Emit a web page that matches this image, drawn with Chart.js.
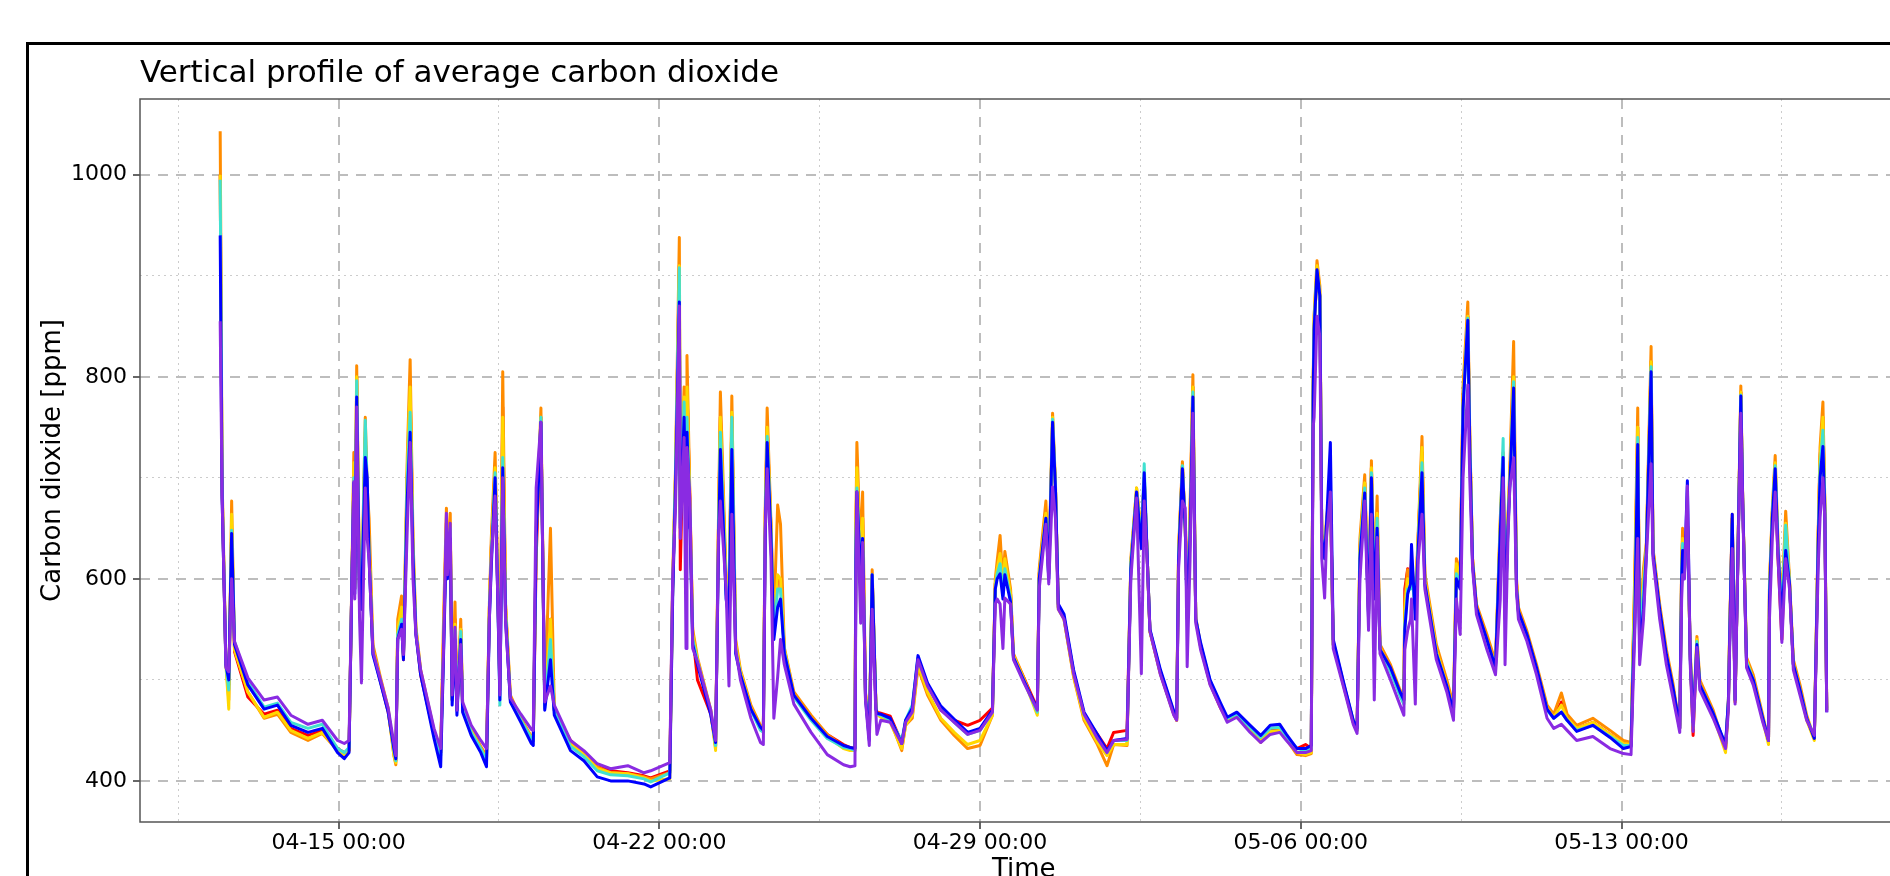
<!DOCTYPE html>
<html><head><meta charset="utf-8">
<script src="https://cdn.jsdelivr.net/npm/chart.js@4/dist/chart.umd.min.js"></script>
<style>
html,body{margin:0;padding:0;background:#fff;overflow:hidden;width:1890px;height:876px;position:relative;}
#frame{position:absolute;left:26px;top:42px;width:2000px;height:1000px;border:3px solid #000;box-sizing:border-box;}
#c{position:absolute;left:0;top:0;}
</style></head><body>
<div id="frame"></div>
<canvas id="c" width="1960" height="900"></canvas>
<script>
const chartTitle = 'Vertical profile of average carbon dioxide';
const xTitle = 'Time';
const yTitle = 'Carbon dioxide [ppm]';
const xTickLabels = ['04-15 00:00','04-22 00:00','04-29 00:00','05-06 00:00','05-13 00:00'];
const xMinorTicks = ['04-11 12:00','04-18 12:00','04-25 12:00','05-02 12:00','05-09 12:00','05-16 12:00'];
const yMajorTicks = [400, 600, 800, 1000];
const yMinorTicks = [500, 700, 900];
const seriesNames = ['red','orange','gold','cyan','blue','purple'];
const seriesColors = ['#ff0000','#ff8c00','#ffd700','#40e0d0','#0000ff','#8a2be2'];

const times = [
'04-12 10:00','04-12 11:00','04-12 13:00','04-12 14:30','04-12 16:00','04-12 17:30','04-13 00:30','04-13 09:00','04-13 16:00','04-13 23:00',
'04-14 08:00','04-14 15:30','04-14 23:30','04-15 03:00','04-15 05:30','04-15 07:00','04-15 08:00','04-15 08:30','04-15 09:30','04-15 11:00',
'04-15 12:00','04-15 14:00','04-15 15:00','04-15 16:00','04-15 18:00','04-15 22:00','04-16 02:00','04-16 05:00','04-16 06:00','04-16 07:00',
'04-16 09:00','04-16 10:00','04-16 12:00','04-16 13:30','04-16 15:00','04-16 16:30','04-16 19:00','04-17 02:00','04-17 05:30','04-17 07:00',
'04-17 08:30','04-17 09:00','04-17 10:30','04-17 11:30','04-17 13:00','04-17 14:00','04-17 16:00','04-17 17:00','04-17 21:30','04-18 02:30',
'04-18 05:30','04-18 07:00','04-18 08:00','04-18 10:00','04-18 11:30','04-18 12:30','04-18 14:00','04-18 15:30','04-18 18:00','04-18 23:30',
'04-19 05:00','04-19 06:00','04-19 07:30','04-19 10:00','04-19 12:00','04-19 15:00','04-19 17:00','04-20 01:30','04-20 08:30','04-20 15:30',
'04-20 22:30','04-21 07:30','04-21 16:00','04-21 19:30','04-22 05:30','04-22 07:00','04-22 08:30','04-22 10:30','04-22 11:00','04-22 13:00',
'04-22 14:00','04-22 14:30','04-22 16:00','04-22 17:30','04-22 20:00','04-23 03:00','04-23 05:30','04-23 07:00','04-23 08:00','04-23 11:00',
'04-23 12:30','04-23 14:00','04-23 16:00','04-23 18:30','04-24 00:00','04-24 05:00','04-24 06:30','04-24 07:30','04-24 08:30','04-24 10:30',
'04-24 12:00','04-24 14:00','04-24 15:30','04-24 17:30','04-24 22:30','04-25 07:30','04-25 16:00','04-26 00:30','04-26 04:00','04-26 06:30',
'04-26 07:00','04-26 07:30','04-26 09:30','04-26 10:30','04-26 12:00','04-26 14:00','04-26 15:30','04-26 17:30','04-26 18:00','04-26 20:00',
'04-27 01:00','04-27 07:00','04-27 09:00','04-27 12:30','04-27 15:30','04-27 20:30','04-28 03:30','04-28 10:30','04-28 17:30','04-29 00:00',
'04-29 06:30','04-29 08:00','04-29 09:00','04-29 10:30','04-29 12:00','04-29 13:00','04-29 16:00','04-29 17:30','04-29 23:00','04-30 06:00',
'04-30 07:00','04-30 10:30','04-30 12:00','04-30 14:00','04-30 15:30','04-30 17:00','04-30 20:00','05-01 01:00','05-01 06:30','05-01 13:30',
'05-01 18:30','05-01 22:00','05-02 05:00','05-02 07:00','05-02 10:00','05-02 12:30','05-02 14:00','05-02 15:30','05-02 17:00','05-02 22:30',
'05-03 05:30','05-03 07:00','05-03 08:00','05-03 10:00','05-03 11:30','05-03 12:30','05-03 14:00','05-03 15:30','05-03 17:00','05-03 19:30',
'05-04 00:30','05-04 06:00','05-04 09:30','05-04 14:30','05-04 21:30','05-05 03:00','05-05 08:00','05-05 13:00','05-05 16:30','05-05 22:00',
'05-06 02:30','05-06 05:30','05-06 06:30','05-06 07:00','05-06 08:30','05-06 10:00','05-06 11:00','05-06 12:30','05-06 13:30','05-06 15:30',
'05-06 17:00','05-06 22:30','05-07 03:30','05-07 05:30','05-07 07:00','05-07 09:30','05-07 11:30','05-07 13:00','05-07 14:30','05-07 16:00',
'05-07 17:30','05-07 23:00','05-08 04:00','05-08 06:00','05-08 06:30','05-08 08:00','05-08 09:30','05-08 10:00','05-08 12:00','05-08 13:30',
'05-08 15:30','05-08 17:00','05-08 23:00','05-09 04:30','05-09 08:00','05-09 09:30','05-09 11:30','05-09 13:00','05-09 15:30','05-09 16:30',
'05-09 18:00','05-09 20:00','05-10 01:30','05-10 06:00','05-10 08:30','05-10 10:00','05-10 11:00','05-10 12:30','05-10 13:30','05-10 15:30',
'05-10 17:00','05-10 18:00','05-10 22:30','05-11 03:30','05-11 09:00','05-11 12:30','05-11 16:30','05-11 19:30','05-12 00:30','05-12 09:00',
'05-12 18:00','05-13 01:00','05-13 05:00','05-13 06:00','05-13 07:00','05-13 08:30','05-13 09:30','05-13 11:30','05-13 13:00','05-13 15:30',
'05-13 16:30','05-13 20:00','05-13 23:30','05-14 03:00','05-14 05:30','05-14 06:30','05-14 07:30','05-14 08:00','05-14 09:00','05-14 10:30',
'05-14 12:00','05-14 13:30','05-14 15:30','05-14 17:00','05-15 00:00','05-15 06:30','05-15 08:00','05-15 08:30','05-15 10:00','05-15 11:30',
'05-15 13:00','05-15 14:30','05-15 15:30','05-15 17:30','05-15 21:00','05-16 02:00','05-16 05:00','05-16 05:30','05-16 07:00','05-16 08:30',
'05-16 10:00','05-16 12:00','05-16 14:00','05-16 16:00','05-16 18:00','05-16 21:30','05-17 01:00','05-17 05:00','05-17 07:00','05-17 08:00',
'05-17 09:30','05-17 10:30','05-17 11:30'
];

const red = [
1000,690,515,495,650,528,483,466,470,452, 445,450,432,428,430,600,705,590,800,585,
570,740,680,630,530,498,468,430,420,550, 565,520,700,790,625,548,505,446,428,540,
655,610,655,480,560,470,550,470,448,432, 422,570,630,710,580,490,770,570,480,460,
442,440,620,760,475,560,470,440,428,414, 410,408,405,403,410,590,700,910,609,770,
680,790,680,545,500,466,435,650,760,590, 570,760,532,505,472,452,450,660,750,650,
550,600,600,528,485,463,446,436,433,432, 650,700,610,660,486,444,600,472,468,467,
464,438,458,470,520,495,470,460,455,460, 472,595,610,615,590,615,585,524,502,472,
605,665,605,755,690,572,562,507,465,446, 432,448,450,615,686,640,700,625,548,506,
466,460,625,712,650,570,660,790,560,533, 496,472,460,464,450,440,450,451,442,432,
436,432,790,850,900,880,640,625,655,685, 535,494,458,450,630,695,565,710,590,665,
532,510,487,480,590,610,600,615,570,640, 725,600,530,495,470,610,600,780,860,740,
618,572,540,514,650,720,568,655,700,800, 595,568,545,512,472,463,478,463,452,458,
446,437,436,520,590,750,535,600,630,815, 628,570,525,492,462,452,610,640,610,660,
525,445,538,495,466,432,478,530,660,478, 625,785,675,518,500,462,440,590,665,700,
620,540,650,596,516,490,462,442,640,720, 760,670,470
];
const orange = [
1043,700,518,480,677,530,488,462,466,448, 440,447,430,425,430,605,725,595,811,590,
580,760,690,660,535,502,472,425,416,560, 583,525,720,817,640,553,510,450,430,560,
670,615,665,485,577,475,560,475,452,434, 425,575,640,725,585,495,805,575,485,462,
444,442,640,769,480,650,472,438,428,414, 408,407,404,402,408,600,710,938,665,790,
700,821,685,550,522,470,433,660,785,600, 580,781,540,510,475,455,452,670,769,655,
560,673,654,532,488,465,446,434,432,432, 660,735,620,686,488,446,609,474,468,465,
460,430,455,462,512,485,460,445,432,435, 465,600,618,643,595,627,590,526,502,467,
610,677,610,764,695,572,560,503,460,436, 415,436,435,620,690,645,700,625,548,508,
468,462,630,716,650,575,670,802,562,535, 498,474,460,465,450,438,448,449,441,426,
425,427,800,860,915,890,645,630,660,690, 538,496,459,451,640,703,570,717,595,682,
535,515,490,482,580,609,600,620,575,645, 741,605,535,500,475,620,605,790,874,745,
620,575,545,518,660,725,570,660,710,835, 600,572,548,515,475,466,487,466,455,462,
450,440,438,530,610,769,540,610,635,830, 630,575,530,496,465,455,615,650,612,660,
530,458,543,500,470,432,480,535,664,480, 630,791,678,522,505,465,440,595,670,722,
635,575,667,600,520,495,465,442,645,730, 775,675,472
];
const gold = [
1000,690,515,471,664,530,488,463,468,450, 442,448,430,425,430,600,715,590,800,585,
575,745,680,630,530,500,470,425,418,550, 572,525,710,790,630,550,508,448,428,540,
655,610,655,480,555,472,550,472,450,432, 422,570,630,710,580,490,760,570,482,460,
443,440,640,760,475,560,470,436,426,412, 408,407,403,400,402,590,705,910,660,780,
690,790,675,545,520,468,430,650,760,595, 575,765,535,508,472,452,450,660,750,650,
550,604,600,530,485,462,444,432,430,430, 650,710,610,660,486,444,604,472,466,463,
458,432,455,465,515,488,462,448,436,440, 465,595,610,625,590,620,585,524,500,465,
605,665,605,760,690,570,560,504,462,438, 425,436,436,615,690,640,700,625,548,506,
466,460,625,712,650,570,660,790,560,534, 497,473,460,465,451,440,449,450,442,428,
426,428,790,860,910,885,640,625,655,685, 535,494,458,450,630,695,568,710,590,665,
532,510,485,477,570,600,595,615,570,640, 730,600,530,495,470,615,600,780,860,740,
618,572,540,514,655,720,568,655,700,800, 595,568,545,512,472,463,475,462,452,458,
446,437,436,525,600,750,535,600,630,815, 628,570,525,492,462,452,610,640,610,660,
525,452,540,495,465,428,478,530,660,478, 625,785,675,520,500,460,436,590,668,715,
632,570,655,596,516,490,460,440,640,720, 760,672,470
];
const cyan = [
995,690,515,490,648,538,498,473,477,458, 452,456,432,428,433,600,700,590,796,580,
570,757,690,625,527,498,470,430,420,545, 560,523,700,765,625,548,507,446,425,530,
650,605,650,480,550,470,548,472,448,432, 420,565,620,705,575,475,720,565,480,460,
442,440,650,760,472,540,470,434,424,410, 406,405,402,399,408,590,700,908,655,775,
680,760,670,540,518,468,435,640,745,585, 570,760,530,505,470,450,448,650,741,645,
545,590,590,528,483,460,442,433,432,430, 640,690,605,640,484,442,604,471,466,465,
460,440,460,475,522,495,472,458,446,450, 468,590,605,615,585,610,580,522,499,468,
600,660,600,758,690,572,562,508,466,444, 428,440,440,615,686,635,714,625,549,508,
467,462,620,712,650,565,650,785,560,535, 499,475,462,466,453,443,452,453,444,432,
430,432,790,850,905,880,640,620,655,690, 535,495,460,450,625,690,565,705,585,660,
530,508,484,476,555,590,590,610,565,635, 715,595,527,493,468,605,595,770,858,735,
615,570,538,512,650,739,565,650,695,795, 592,566,543,510,470,462,468,460,450,455,
444,435,435,515,575,740,530,590,628,810, 625,568,523,490,462,452,605,635,608,660,
525,455,538,495,467,435,480,528,655,480, 625,782,675,518,500,462,440,585,665,712,
630,565,653,595,515,490,462,444,635,710, 747,670,470
];
const blue = [
940,680,515,500,645,535,495,471,475,455, 448,452,428,422,428,600,695,585,780,575,
570,720,700,620,525,497,468,432,422,540, 555,520,680,745,620,545,505,442,414,525,
640,600,640,475,540,465,540,468,445,428, 414,560,612,700,572,480,710,560,478,458,
437,435,640,755,470,520,465,430,420,404, 400,400,397,394,403,580,690,874,650,760,
650,745,660,535,515,465,438,630,728,580, 560,728,526,505,471,453,450,640,735,640,
540,572,580,526,485,462,444,435,433,432, 620,686,600,640,482,440,604,471,467,466,
462,437,460,472,524,497,474,461,448,452, 470,590,600,605,580,604,577,522,499,471,
600,660,600,755,690,575,565,510,468,446, 430,440,442,610,686,630,705,625,550,510,
469,462,618,709,650,560,640,780,560,537, 500,477,463,468,455,445,455,456,446,432,
432,435,780,847,906,880,640,620,655,735, 540,497,460,452,620,685,560,700,580,650,
530,512,488,480,550,585,595,634,560,630, 705,595,526,494,468,600,590,769,856,730,
615,572,540,512,645,720,560,648,692,789, 590,568,545,512,471,462,468,460,449,455,
443,432,434,505,560,733,526,570,625,805, 625,570,525,492,465,452,600,628,605,697,
520,458,535,495,467,436,480,525,664,480, 625,781,675,515,500,462,440,580,660,709,
625,560,628,595,515,490,462,442,630,700, 731,665,468
];
const purple = [
855,682,512,508,600,538,502,480,483,465, 456,460,440,437,440,600,696,580,770,560,
497,690,640,618,528,500,472,437,425,540, 550,525,650,735,600,545,510,452,432,531,
665,604,655,485,552,470,535,478,455,440, 432,560,620,682,575,485,700,555,482,466,
451,450,690,755,478,494,475,440,430,417, 412,415,408,410,418,600,670,870,640,740,
531,730,680,531,518,470,440,640,677,590, 494,664,530,500,462,438,436,650,709,620,
462,503,540,515,476,448,426,416,414,415, 600,686,556,636,480,435,570,465,446,460,
458,437,458,468,520,494,470,458,446,450, 468,575,580,575,531,581,575,520,497,470,
590,654,595,691,660,570,560,506,466,442, 428,440,441,600,680,506,677,620,548,505,
465,460,610,677,670,513,618,764,556,530, 495,472,458,463,448,438,446,448,440,428,
428,430,750,760,860,840,620,581,641,686, 531,492,456,447,600,677,549,664,480,641,
526,500,475,465,530,549,560,580,476,618, 664,590,520,488,460,580,545,700,792,700,
610,565,530,505,580,700,515,640,690,720, 587,560,538,505,462,452,456,450,440,444,
432,427,426,490,550,640,515,560,620,714, 620,560,515,482,458,448,580,604,600,692,
515,449,532,490,462,432,470,521,630,476, 620,764,670,512,495,458,440,560,640,686,
620,537,620,590,510,485,460,445,610,660, 700,659,468
];

// hours since 04-15 00:00
function toHours(s) {
  const [md, hm] = s.split(' ');
  const [mo, d] = md.split('-').map(Number);
  const [hh, mm] = hm.split(':').map(Number);
  const dayIndex = (mo === 4 ? d : 30 + d) - 15;
  return dayIndex * 24 + hh + mm / 60;
}
const xHours = times.map(toHours);
const seriesValues = [red, orange, gold, cyan, blue, purple];

const datasets = seriesNames.map((name, i) => ({
  label: name,
  data: seriesValues[i].map((v, k) => ({x: xHours[k], y: v})),
  borderColor: seriesColors[i],
  backgroundColor: seriesColors[i],
  borderWidth: 3,
  borderJoinStyle: 'round',
  pointRadius: 0,
  tension: 0,
  fill: false,
  order: seriesNames.length - i
}));

const X_MIN = -104, X_MAX = 821.8, Y_MIN = 359.3, Y_MAX = 1075;
const FONT = 'DejaVu Sans';

const layoutFix = {
  id: 'layoutFix',
  afterLayout(chart) {
    if (chart.titleBlock) chart.titleBlock.left = chart.chartArea.left;
  }
};
const spines = {
  id: 'spines',
  afterDatasetsDraw(chart) {
    const {ctx, chartArea: a} = chart;
    ctx.save();
    ctx.strokeStyle = '#555555';
    ctx.lineWidth = 1.5;
    ctx.strokeRect(a.left, a.top, a.right - a.left, a.bottom - a.top);
    ctx.restore();
  }
};

new Chart(document.getElementById('c'), {
  type: 'line',
  data: { datasets },
  plugins: [layoutFix, spines],
  options: {
    responsive: false,
    animation: false,
    devicePixelRatio: 1,
    layout: { padding: { left: 0, top: 0, right: 52.5, bottom: 0 } },
    plugins: {
      legend: { display: false },
      tooltip: { enabled: false },
      title: {
        display: true, text: chartTitle, align: 'start', color: '#000',
        font: { family: FONT, size: 31, weight: 'normal' },
        padding: { top: 55, bottom: 6.8 }
      }
    },
    scales: {
      x: {
        type: 'linear', position: 'bottom', min: X_MIN, max: X_MAX,
        afterBuildTicks: s => { s.ticks = xTickLabels.map(l => ({ value: toHours(l) })); },
        ticks: { autoSkip: false, maxRotation: 0, minRotation: 0, padding: 1, color: '#000',
          font: { family: FONT, size: 22 }, callback: (v, i) => xTickLabels[i] },
        grid: { color: '#bdbdbd', lineWidth: 2, drawTicks: true, tickLength: 7, tickColor: '#333', tickWidth: 1.5 },
        border: { display: false, dash: [10, 8] },
        title: { display: true, text: xTitle, color: '#000', font: { family: FONT, size: 26 }, padding: { top: 0, bottom: 14 } },
        afterFit: s => { s.height = 78; }
      },
      xMinor: {
        type: 'linear', position: 'bottom', min: X_MIN, max: X_MAX,
        afterBuildTicks: s => { s.ticks = xMinorTicks.map(l => ({ value: toHours(l) })); },
        ticks: { display: false },
        grid: { color: '#cccccc', lineWidth: 1, drawTicks: false },
        border: { display: false, dash: [2, 4] },
        afterFit: s => { s.height = 0; }
      },
      y: {
        type: 'linear', position: 'left', min: Y_MIN, max: Y_MAX,
        afterBuildTicks: s => { s.ticks = yMajorTicks.map(v => ({ value: v })); },
        ticks: { padding: 6, color: '#000', font: { family: FONT, size: 22 }, callback: v => String(v) },
        grid: { color: '#bdbdbd', lineWidth: 2, drawTicks: true, tickLength: 7, tickColor: '#333', tickWidth: 1.5 },
        border: { display: false, dash: [10, 8] },
        title: { display: true, text: yTitle, color: '#000', font: { family: FONT, size: 26 }, padding: { top: 38, bottom: 0 } },
        afterFit: s => { s.width = 140; }
      },
      yMinor: {
        type: 'linear', position: 'left', min: Y_MIN, max: Y_MAX,
        afterBuildTicks: s => { s.ticks = yMinorTicks.map(v => ({ value: v })); },
        ticks: { display: false },
        grid: { color: '#cccccc', lineWidth: 1, drawTicks: false },
        border: { display: false, dash: [2, 4] },
        afterFit: s => { s.width = 0; }
      }
    }
  }
});
</script>
</body></html>
